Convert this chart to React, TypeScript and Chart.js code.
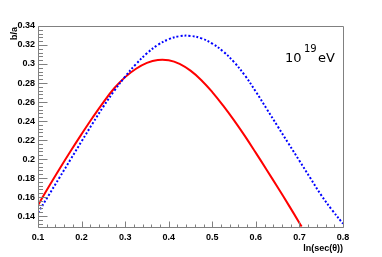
import React, { useEffect, useRef } from "react";
import { Chart, registerables } from "chart.js";

Chart.register(...registerables);

const xValues = [0.1, 0.125, 0.15, 0.175, 0.2, 0.225, 0.25, 0.275, 0.3, 0.325, 0.35, 0.375, 0.4, 0.425, 0.45, 0.475, 0.5, 0.525, 0.55, 0.575, 0.6, 0.625, 0.65, 0.675, 0.7, 0.725, 0.75, 0.775, 0.8];
const blueValues = [0.1435, 0.1622, 0.181, 0.1998, 0.2186, 0.2372, 0.2552, 0.2718, 0.2868, 0.3, 0.3112, 0.3201, 0.3261, 0.3293, 0.3296, 0.327, 0.3215, 0.3132, 0.302, 0.2879, 0.2709, 0.2527, 0.2345, 0.2163, 0.1982, 0.18, 0.162, 0.1463, 0.132];
const redX = [0.1, 0.125, 0.15, 0.175, 0.2, 0.225, 0.25, 0.275, 0.3, 0.325, 0.35, 0.375, 0.4, 0.425, 0.45, 0.475, 0.5, 0.525, 0.55, 0.575, 0.6, 0.625, 0.65, 0.675, 0.7, 0.705];
const redValues = [0.1515, 0.171, 0.19, 0.2084, 0.2262, 0.2434, 0.2597, 0.2745, 0.2862, 0.295, 0.3012, 0.3043, 0.304, 0.3002, 0.293, 0.283, 0.2705, 0.2562, 0.2407, 0.2241, 0.2065, 0.1885, 0.1703, 0.1518, 0.1328, 0.129];
const xTickLabels = [0.1, 0.2, 0.3, 0.4, 0.5, 0.6, 0.7, 0.8];
const yTickLabels = [0.14, 0.16, 0.18, 0.2, 0.22, 0.24, 0.26, 0.28, 0.3, 0.32, 0.34];
const xRange = [0.1, 0.8];
const yRange = [0.1285, 0.34];
const xTitle = "ln(sec(θ))";
const yTitle = "b/a";
const energyBase = "10";
const energyExp = "19";
const energyUnit = "eV";

const LABEL_FONT = "bold 9px 'Liberation Sans', Arial, sans-serif";
const FRAME = "#808080";

const decor = {
  id: "decor",
  afterDraw(chart: any) {
    const { ctx, chartArea: a } = chart;
    const xs = chart.scales.x;
    const ys = chart.scales.y;
    ctx.save();
    ctx.strokeStyle = FRAME;
    ctx.lineWidth = 1;
    const L = Math.round(a.left) + 0.5;
    const R = Math.round(a.right) + 0.5;
    const T = Math.round(a.top) + 0.5;
    const B = Math.round(a.bottom) + 0.5;
    ctx.beginPath();
    ctx.moveTo(L, T);
    ctx.lineTo(R, T);
    ctx.lineTo(R, B);
    ctx.lineTo(L, B);
    ctx.closePath();
    ctx.stroke();
    ctx.beginPath();
    for (let i = 0; i <= 35; i++) {
      const v = 0.1 + i * 0.02;
      const px = Math.round(xs.getPixelForValue(v)) + 0.5;
      const len = i % 5 === 0 ? 6 : 3;
      ctx.moveTo(px, B);
      ctx.lineTo(px, B - len);
    }
    for (let i = 0; i <= 60; i++) {
      const v = 0.34 - i * 0.004;
      if (v < yRange[0]) break;
      const py = Math.round(ys.getPixelForValue(v)) + 0.5;
      const len = i % 5 === 0 ? 9 : 4.5;
      ctx.moveTo(L, py);
      ctx.lineTo(L + len, py);
    }
    ctx.stroke();
    ctx.fillStyle = "#000";
    ctx.font = LABEL_FONT;
    ctx.textAlign = "right";
    ctx.textBaseline = "alphabetic";
    ctx.fillText(xTitle, a.right, 251);
    ctx.save();
    ctx.translate(17, a.top + 1);
    ctx.rotate(-Math.PI / 2);
    ctx.textAlign = "right";
    ctx.fillText(yTitle, 0, 0);
    ctx.restore();
    ctx.textAlign = "left";
    ctx.font = "13px 'DejaVu Sans', sans-serif";
    ctx.fillText(energyBase, 285, 62);
    ctx.font = "10px 'DejaVu Sans', sans-serif";
    ctx.fillText(energyExp, 304, 52);
    ctx.font = "13px 'DejaVu Sans', sans-serif";
    ctx.fillText(energyUnit, 318, 62);
    ctx.restore();
  },
};

const fmt = (v: number) => parseFloat(v.toFixed(2)).toString();

export default function App() {
  const ref = useRef<HTMLCanvasElement>(null);
  useEffect(() => {
    if (!ref.current) return;
    const chart = new Chart(ref.current, {
      type: "line",
      data: {
        datasets: [
          {
            label: "blue",
            data: xValues.map((x, i) => ({ x, y: blueValues[i] })),
            borderColor: "#0000ff",
            borderWidth: 2,
            borderDash: [2, 2],
            pointRadius: 0,
            tension: 0.4,
            fill: false,
          },
          {
            label: "red",
            data: redX.map((x, i) => ({ x, y: redValues[i] })),
            borderColor: "#ff0000",
            borderWidth: 2,
            pointRadius: 0,
            tension: 0.4,
            fill: false,
          },
        ],
      },
      options: {
        responsive: false,
        animation: false,
        events: [],
        layout: { padding: { top: 26, right: 39, left: 0, bottom: 0 } },
        plugins: { legend: { display: false }, tooltip: { enabled: false } },
        scales: {
          x: {
            type: "linear",
            min: xRange[0],
            max: xRange[1],
            border: { display: false },
            grid: { display: false, drawTicks: false },
            afterBuildTicks: (s: any) => {
              s.ticks = xTickLabels.map((v) => ({ value: v }));
            },
            afterFit: (s: any) => {
              s.height = 30;
            },
            ticks: {
              color: "#000",
              font: { family: "'Liberation Sans', Arial, sans-serif", size: 9, weight: "bold" },
              padding: 5,
              maxRotation: 0,
              autoSkip: false,
              callback: (v: any) => fmt(Number(v)),
            },
          },
          y: {
            type: "linear",
            min: yRange[0],
            max: yRange[1],
            border: { display: false },
            grid: { display: false, drawTicks: false },
            afterBuildTicks: (s: any) => {
              s.ticks = yTickLabels.map((v) => ({ value: v }));
            },
            afterFit: (s: any) => {
              s.width = 38;
            },
            ticks: {
              color: "#000",
              font: { family: "'Liberation Sans', Arial, sans-serif", size: 9, weight: "bold" },
              padding: 3,
              autoSkip: false,
              callback: (v: any) => fmt(Number(v)),
            },
          },
        },
      },
      plugins: [decor],
    } as any);
    return () => chart.destroy();
  }, []);
  return (
    <div style={{ position: "fixed", left: 0, top: 0, width: 382, height: 257, background: "#fff" }}>
      <canvas ref={ref} width={382} height={257} style={{ display: "block" }} />
    </div>
  );
}
